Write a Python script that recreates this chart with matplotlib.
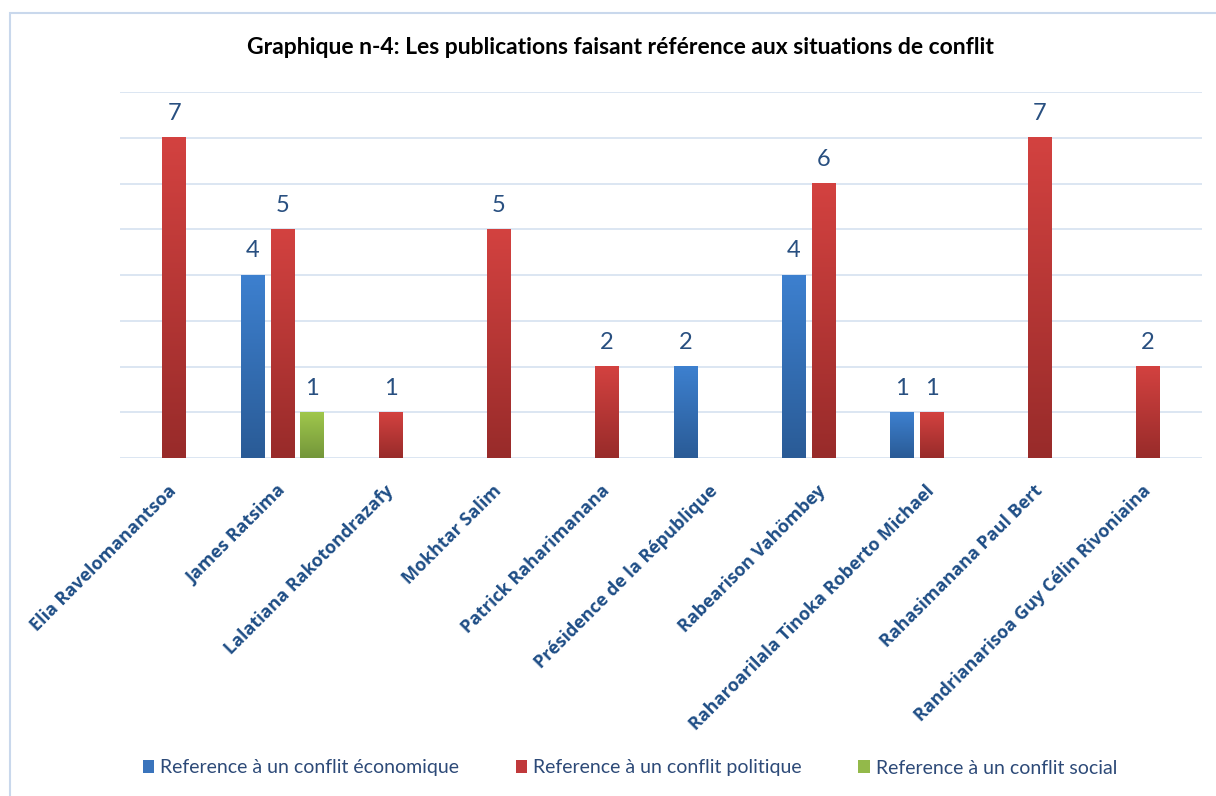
import numpy as np
import matplotlib
matplotlib.use("Agg")
import matplotlib.pyplot as plt
from matplotlib.patches import Rectangle, Patch
from matplotlib.colors import LinearSegmentedColormap
from matplotlib.transforms import ScaledTranslation

categories = ["Elia Ravelomanantsoa", "James Ratsima", "Lalatiana Rakotondrazafy",
              "Mokhtar Salim", "Patrick Raharimanana", "Présidence de la République",
              "Rabearison Vahömbey", "Raharoarilala Tinoka Roberto Michael",
              "Rahasimanana Paul Bert", "Randrianarisoa Guy Célin Rivoniaina"]
economique = [0, 4, 0, 0, 0, 2, 4, 1, 0, 0]
politique = [7, 5, 1, 5, 2, 0, 6, 1, 7, 2]
social = [0, 1, 0, 0, 0, 0, 0, 0, 0, 0]
series_names = ["Reference à un conflit économique",
                "Reference à un conflit politique",
                "Reference à un conflit social"]
title = "Graphique n-4: Les publications faisant référence aux situations de conflit"

series = [economique, politique, social]
grads = [("#3D80CF", "#2A5B96"), ("#D34240", "#982B2A"), ("#A0C74C", "#73963A")]
legend_cols = ["#3A74BC", "#C0393B", "#93B94A"]

W, H = 1216, 796
fig = plt.figure(figsize=(W / 100, H / 100), dpi=100)
fig.patch.set_facecolor("white")

# chart border
fig.add_artist(Rectangle((10 / W, -0.05), 1.2, (1 - 13 / H) + 0.05,
                         transform=fig.transFigure, fill=False,
                         edgecolor="#C9D8EC", lw=1.5))

ax = fig.add_axes([120 / W, 1 - 458 / H, (1202 - 120) / W, (458 - 92) / H])
ax.set_xlim(-0.5, len(categories) - 0.5)
ax.set_ylim(0, 8)
ax.set_yticks(range(0, 9))
ax.yaxis.grid(True, color="#D6E1F0", lw=1.2)
ax.set_axisbelow(True)
ax.tick_params(axis="y", left=False, labelleft=False)
ax.tick_params(axis="x", bottom=False, labelbottom=False)
for s in ax.spines.values():
    s.set_visible(False)

x = np.arange(len(categories))
width = 0.218
step = 0.273
offsets = [-step, 0, step]
for vals, off, (ctop, cbot) in zip(series, offsets, grads):
    bars = ax.bar(x + off, vals, width, color="none", edgecolor="none", zorder=2)
    cmap = LinearSegmentedColormap.from_list("g", [cbot, ctop])
    grad = np.linspace(0, 1, 256).reshape(-1, 1)
    for b, v in zip(bars, vals):
        if v == 0:
            continue
        x0, w, h = b.get_x(), b.get_width(), b.get_height()
        ax.imshow(grad, cmap=cmap, origin="lower", aspect="auto",
                  extent=(x0, x0 + w, 0, h), zorder=2, interpolation="bilinear")
        ax.text(x0 + w / 2, h + 0.3, str(v), ha="center", va="bottom",
                fontsize=17, color="#284F80", family="Lato")
ax.set_xlim(-0.5, len(categories) - 0.5)
ax.set_ylim(0, 8)

# category labels (rotated 45 degrees, anchored at their right end)
lab_off = ScaledTranslation(0 / 100, -30 / 100, fig.dpi_scale_trans)
for xi, name in zip(x, categories):
    ax.text(xi, 0, name, transform=ax.get_xaxis_transform() + lab_off,
            rotation=45, ha="right", va="center", rotation_mode="anchor",
            fontsize=13, fontweight="bold", color="#1F4E86", family="Open Sans")

fig.text(620 / W, 1 - 47 / H, title, ha="center", va="center",
         fontsize=16.5, fontweight="bold", color="black", family="Lato")

handles = [Patch(facecolor=c, edgecolor="none") for c in legend_cols]
fig.legend(handles, series_names, loc="center", bbox_to_anchor=(0.518, 1 - 768 / H),
           ncol=3, frameon=False, handlelength=0.6, handleheight=0.6,
           handletextpad=0.3, columnspacing=2.9,
           prop={"family": "Lato", "size": 14}, labelcolor="#2D4A78")

fig.savefig("out.png", dpi=100, facecolor="white")
